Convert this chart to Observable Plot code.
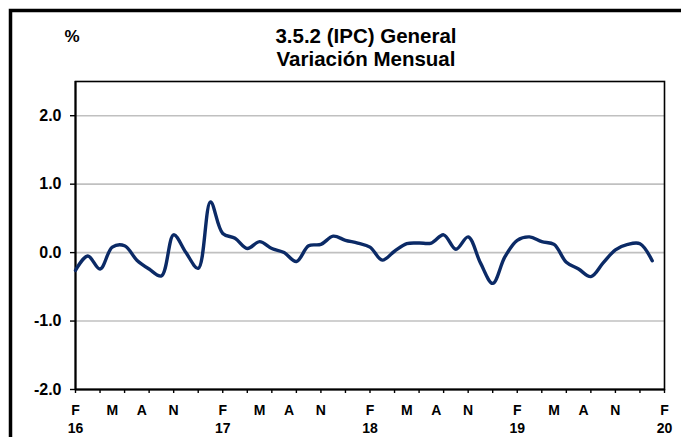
<!DOCTYPE html>
<html>
<head>
<meta charset="utf-8">
<script src="https://cdn.jsdelivr.net/npm/d3@7"></script>
<script src="https://cdn.jsdelivr.net/npm/@observablehq/plot@0.6"></script>
<style>
  html, body { margin: 0; padding: 0; background: #fff; }
  #chart { width: 681px; height: 437px; overflow: hidden; }
</style>
</head>
<body>
<div id="chart"></div>
<script>
// Monthly series: Feb 2016 .. Jan 2020 (index 0 = Feb 2016)
const months = [
  "2016-02","2016-03","2016-04","2016-05","2016-06","2016-07","2016-08","2016-09","2016-10","2016-11","2016-12","2017-01",
  "2017-02","2017-03","2017-04","2017-05","2017-06","2017-07","2017-08","2017-09","2017-10","2017-11","2017-12","2018-01",
  "2018-02","2018-03","2018-04","2018-05","2018-06","2018-07","2018-08","2018-09","2018-10","2018-11","2018-12","2019-01",
  "2019-02","2019-03","2019-04","2019-05","2019-06","2019-07","2019-08","2019-09","2019-10","2019-11","2019-12","2020-01"
];
const values = [
  -0.26, -0.05, -0.24, 0.08, 0.10, -0.11, -0.24, -0.34, 0.26, 0.00, -0.23, 0.74,
   0.28,  0.21,  0.06, 0.16, 0.06,  0.00, -0.13,  0.10, 0.12, 0.24,  0.18, 0.14,
   0.08, -0.11,  0.02, 0.13, 0.14,  0.14,  0.26,  0.05, 0.23, -0.15, -0.45, -0.06,
   0.18,  0.23,  0.16, 0.12, -0.14, -0.24, -0.35, -0.15, 0.04, 0.12, 0.13, -0.12
];
// Axis labels (month offsets from February of each year)
const monthLabels = ["F", "M", "A", "N"];
const monthLabelOffsets = [0, 3, 5.4, 8];
const yearLabels = ["16", "17", "18", "19", "20"];
const yTicks = [-2, -1, 0, 1, 2];
const gridValues = [-1, 0, 1, 2];
const xTickMonths = d3.range(0, 49, 2);
const titleLines = ["3.5.2 (IPC) General", "Variación Mensual"];
const unitLabel = "%";

const data = months.map((m, i) => ({month: m, i, value: values[i]}));
const monthTickData = [];
yearLabels.forEach((yl, k) => {
  monthLabels.forEach((ml, j) => {
    const pos = k * 12 + monthLabelOffsets[j];
    if (pos <= 48) monthTickData.push({pos, label: ml});
  });
});
const yearTickData = yearLabels.map((yl, k) => ({pos: k * 12, label: yl}));

const FONT = "'Liberation Sans', Arial, sans-serif";
const lineColor = "#0b2a66";

const chart = Plot.plot({
  width: 681,
  height: 437,
  marginLeft: 75,
  marginRight: 17,
  marginTop: 81,
  marginBottom: 48,
  style: {fontFamily: FONT, background: "white", color: "black"},
  x: {domain: [0, 48], axis: null},
  y: {domain: [-2, 2.5], axis: null},
  marks: [
    Plot.gridY(gridValues, {stroke: "#c0c0c0", strokeOpacity: 1, strokeWidth: 1.6}),
    Plot.frame({stroke: "black", strokeWidth: 1.6}),
    Plot.axisY(yTicks, {
      tickSize: 5, tickPadding: 9, tickFormat: d => d.toFixed(1),
      fontSize: 16, fontWeight: "bold", label: null, stroke: "black", strokeWidth: 1.4
    }),
    Plot.axisX(xTickMonths, {
      tickSize: 4, tickFormat: () => "", label: null, stroke: "black", strokeWidth: 1.4
    }),
    Plot.ruleY([-2], {stroke: "black", strokeWidth: 2}),
    Plot.ruleX([0], {stroke: "black", strokeWidth: 2}),
    Plot.text(monthTickData, {
      x: "pos", text: "label", frameAnchor: "bottom", lineAnchor: "bottom", dy: 25,
      fontSize: 14, fontWeight: "bold", fill: "black"
    }),
    Plot.text(yearTickData, {
      x: "pos", text: "label", frameAnchor: "bottom", lineAnchor: "bottom", dy: 43,
      fontSize: 14, fontWeight: "bold", fill: "black"
    }),
    Plot.line(data, {
      x: "i", y: "value", curve: "catmull-rom",
      stroke: lineColor, strokeWidth: 3.4, strokeLinejoin: "round", strokeLinecap: "round"
    })
  ]
});

document.getElementById("chart").appendChild(chart);

// Decorations: outer frame, title and unit label
const svg = d3.select(chart);
svg.append("path")
  .attr("d", "M10.5,437 V10.5 H681")
  .attr("fill", "none").attr("stroke", "black").attr("stroke-width", 3.5);
const title = svg.append("g")
  .attr("font-family", FONT).attr("font-weight", "bold").attr("font-size", 20.5)
  .attr("text-anchor", "middle").attr("fill", "black");
titleLines.forEach((t, k) => {
  title.append("text").attr("x", 366).attr("y", 43 + k * 23).text(t);
});
svg.append("text")
  .attr("x", 72).attr("y", 42).attr("text-anchor", "middle")
  .attr("font-family", FONT).attr("font-weight", "bold").attr("font-size", 17)
  .attr("fill", "black").text(unitLabel);
</script>
</body>
</html>
